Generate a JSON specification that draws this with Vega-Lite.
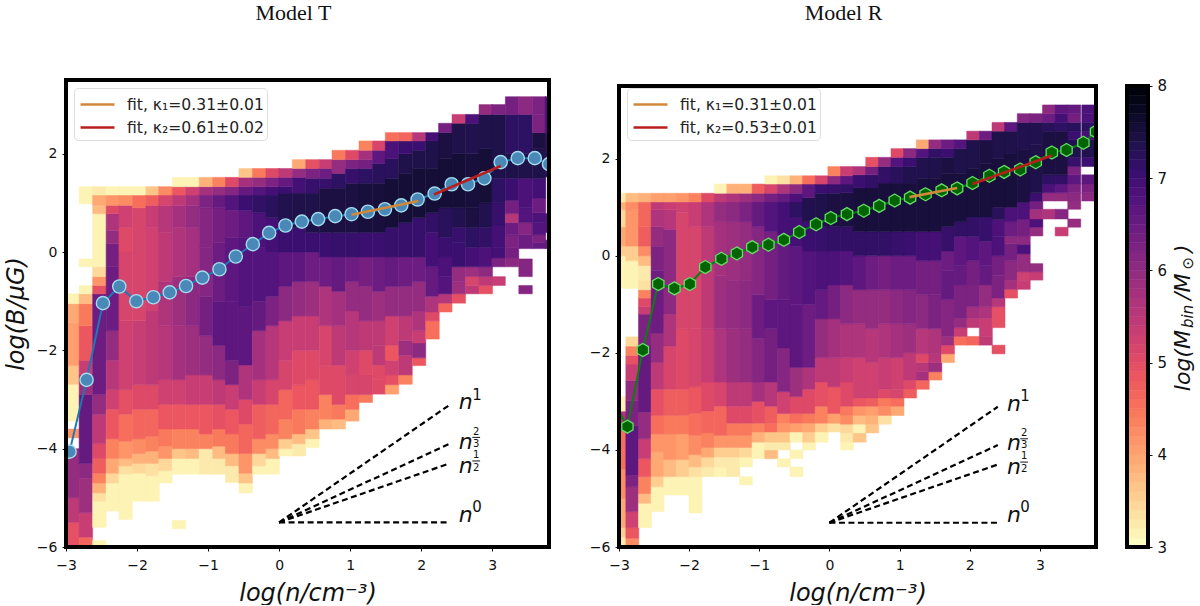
{"$schema":"https://vega.github.io/schema/vega-lite/v6.json","background":"white","padding":{"left":4,"top":2,"right":0,"bottom":0},"bounds":"flush","spacing":70,"resolve":{"scale":{"color":"independent"},"legend":{"color":"independent"}},"config":{"view":{"stroke":null},"axis":{"grid":false,"domain":false,"labelFlush":false,"labelFont":"DejaVu Sans","labelFontSize":14,"labelColor":"#111","tickColor":"#111","tickSize":4,"labelPadding":5,"titleFont":"DejaVu Sans","titleFontStyle":"italic","titleFontWeight":"normal","titleFontSize":24,"titleColor":"#111"},"title":{"font":"Liberation Serif","fontSize":22,"fontWeight":"normal","color":"#111","anchor":"middle","dx":-14},"legend":{"labelFont":"DejaVu Sans","labelFontSize":15.6,"labelColor":"#222","symbolType":"M-0.83,0H2","symbolSize":576,"symbolStrokeWidth":2.5,"fillColor":"white","strokeColor":"#ddd","cornerRadius":4,"padding":3,"rowPadding":0,"labelOffset":23,"title":null}},"datasets":{"heatT":[
{"x":-2.906,"y":-6,"y2":-5.5,"v":4.9},{"x":-2.906,"y":-5.5,"y2":-5,"v":5.4},{"x":-2.906,"y":-5,"y2":-4,"v":5.9},{"x":-2.906,"y":-3.78,"y2":-3.6,"v":4.1},{"x":-2.906,"y":-3.44,"y2":-2.69,"v":3.1},{"x":-2.906,"y":-2.69,"y2":-2.31,"v":3.6},{"x":-2.906,"y":-2.31,"y2":-1.43,"v":4},{"x":-2.906,"y":-1.43,"y2":-1.05,"v":3.9},{"x":-2.906,"y":-1.05,"y2":-0.85,"v":3.1},
{"x":-2.72,"y":-6,"y2":-5.8,"v":4.6},{"x":-2.72,"y":-5.8,"y2":-5.3,"v":5.3},{"x":-2.72,"y":-5.3,"y2":-4.6,"v":5.8},{"x":-2.72,"y":-4.6,"y2":-4.3,"v":6},{"x":-2.72,"y":-4.3,"y2":-2.9,"v":6.5},{"x":-2.72,"y":-2.9,"y2":-2.5,"v":5.8},{"x":-2.72,"y":-2.5,"y2":-2.2,"v":5.3},{"x":-2.72,"y":-2.2,"y2":-1.5,"v":4.8},{"x":-2.72,"y":-1.5,"y2":-1.05,"v":4.4},{"x":-2.72,"y":-1.05,"y2":-0.85,"v":3.7},{"x":-2.72,"y":-0.85,"y2":-0.68,"v":3.1},{"x":-2.72,"y":-0.3,"y2":-0.14,"v":3.1},{"x":-2.72,"y":0.98,"y2":1.33,"v":3.1},
{"x":-2.53,"y":-6,"y2":-5.87,"v":3.1},{"x":-2.53,"y":-5.6,"y2":-5.07,"v":3.1},{"x":-2.53,"y":-5.07,"y2":-4.9,"v":3.3},{"x":-2.53,"y":-4.9,"y2":-4.7,"v":3.8},{"x":-2.53,"y":-4.7,"y2":-4.5,"v":4.3},{"x":-2.53,"y":-4.5,"y2":-4.2,"v":4.7},{"x":-2.53,"y":-4.2,"y2":-3.9,"v":5},{"x":-2.53,"y":-3.9,"y2":-3.3,"v":5.4},{"x":-2.53,"y":-3.3,"y2":-2.9,"v":5.9},{"x":-2.53,"y":-2.9,"y2":-0.85,"v":6.4},{"x":-2.53,"y":-0.85,"y2":-0.68,"v":4.9},{"x":-2.53,"y":-0.68,"y2":-0.5,"v":4.1},{"x":-2.53,"y":-0.5,"y2":-0.3,"v":3.4},{"x":-2.53,"y":-0.3,"y2":0.78,"v":3.1},{"x":-2.53,"y":0.78,"y2":0.95,"v":3.7},{"x":-2.53,"y":0.95,"y2":1.16,"v":3.9},{"x":-2.53,"y":1.16,"y2":1.33,"v":3.2},
{"x":-2.34,"y":-5.27,"y2":-4.7,"v":3.1},{"x":-2.34,"y":-4.7,"y2":-4.5,"v":3.4},{"x":-2.34,"y":-4.5,"y2":-4.2,"v":3.9},{"x":-2.34,"y":-4.2,"y2":-3.8,"v":4.3},{"x":-2.34,"y":-3.8,"y2":-3.2,"v":4.8},{"x":-2.34,"y":-3.2,"y2":-2.8,"v":5.2},{"x":-2.34,"y":-2.8,"y2":-2.2,"v":5.5},{"x":-2.34,"y":-2.2,"y2":-1.6,"v":5.9},{"x":-2.34,"y":-1.6,"y2":-0.3,"v":6.4},{"x":-2.34,"y":-0.3,"y2":0.17,"v":6.3},{"x":-2.34,"y":0.17,"y2":0.44,"v":5.9},{"x":-2.34,"y":0.44,"y2":0.78,"v":5.6},{"x":-2.34,"y":0.78,"y2":0.95,"v":5},{"x":-2.34,"y":0.95,"y2":1.16,"v":4.1},{"x":-2.34,"y":1.16,"y2":1.33,"v":3.1},
{"x":-2.16,"y":-5.44,"y2":-4.52,"v":3.1},{"x":-2.16,"y":-4.52,"y2":-4.35,"v":3.3},{"x":-2.16,"y":-4.35,"y2":-4.2,"v":3.7},{"x":-2.16,"y":-4.2,"y2":-3.85,"v":4.1},{"x":-2.16,"y":-3.85,"y2":-3.3,"v":4.5},{"x":-2.16,"y":-3.3,"y2":-2.8,"v":4.9},{"x":-2.16,"y":-2.8,"y2":-1.4,"v":5.2},{"x":-2.16,"y":-1.4,"y2":0,"v":5.1},{"x":-2.16,"y":0,"y2":0.5,"v":5},{"x":-2.16,"y":0.5,"y2":0.95,"v":5.2},{"x":-2.16,"y":0.95,"y2":1.16,"v":4.2},{"x":-2.16,"y":1.16,"y2":1.33,"v":3.1},
{"x":-1.97,"y":-5.07,"y2":-4.5,"v":3.1},{"x":-1.97,"y":-4.5,"y2":-4.3,"v":3.4},{"x":-1.97,"y":-4.3,"y2":-4.1,"v":3.8},{"x":-1.97,"y":-4.1,"y2":-3.8,"v":4.2},{"x":-1.97,"y":-3.8,"y2":-3.2,"v":4.6},{"x":-1.97,"y":-3.2,"y2":-2.7,"v":5},{"x":-1.97,"y":-2.7,"y2":-1.4,"v":5.3},{"x":-1.97,"y":-1.4,"y2":0.9,"v":5.1},{"x":-1.97,"y":0.9,"y2":1.16,"v":4.5},{"x":-1.97,"y":1.16,"y2":1.33,"v":3.1},
{"x":-1.78,"y":-5.07,"y2":-4.55,"v":3.1},{"x":-1.78,"y":-4.55,"y2":-4.3,"v":3.3},{"x":-1.78,"y":-4.3,"y2":-4.05,"v":3.8},{"x":-1.78,"y":-4.05,"y2":-3.75,"v":4.3},{"x":-1.78,"y":-3.75,"y2":-3.2,"v":4.6},{"x":-1.78,"y":-3.2,"y2":-2.7,"v":5},{"x":-1.78,"y":-2.7,"y2":-1.2,"v":5.4},{"x":-1.78,"y":-1.2,"y2":0.5,"v":5.2},{"x":-1.78,"y":0.5,"y2":0.95,"v":5.3},{"x":-1.78,"y":0.95,"y2":1.16,"v":4.7},{"x":-1.78,"y":1.16,"y2":1.33,"v":3.6},
{"x":-1.6,"y":-4.7,"y2":-4.45,"v":3.1},{"x":-1.6,"y":-4.45,"y2":-4.2,"v":3.4},{"x":-1.6,"y":-4.2,"y2":-3.95,"v":4.1},{"x":-1.6,"y":-3.95,"y2":-3.6,"v":4.4},{"x":-1.6,"y":-3.6,"y2":-3.1,"v":4.8},{"x":-1.6,"y":-3.1,"y2":-2.6,"v":5.2},{"x":-1.6,"y":-2.6,"y2":-1.5,"v":5.5},{"x":-1.6,"y":-1.5,"y2":-0.6,"v":5.6},{"x":-1.6,"y":-0.6,"y2":0.4,"v":5.4},{"x":-1.6,"y":0.4,"y2":0.95,"v":5.5},{"x":-1.6,"y":0.95,"y2":1.16,"v":5.1},{"x":-1.6,"y":1.16,"y2":1.33,"v":4.2},
{"x":-1.41,"y":-5.63,"y2":-5.46,"v":3.1},{"x":-1.41,"y":-4.52,"y2":-4.2,"v":3.1},{"x":-1.41,"y":-4.2,"y2":-4,"v":3.6},{"x":-1.41,"y":-4,"y2":-3.6,"v":4.3},{"x":-1.41,"y":-3.6,"y2":-3.1,"v":4.8},{"x":-1.41,"y":-3.1,"y2":-2.6,"v":5.2},{"x":-1.41,"y":-2.6,"y2":-1.5,"v":5.7},{"x":-1.41,"y":-1.5,"y2":-0.5,"v":5.8},{"x":-1.41,"y":-0.5,"y2":0.5,"v":5.6},{"x":-1.41,"y":0.5,"y2":0.95,"v":5.7},{"x":-1.41,"y":0.95,"y2":1.16,"v":5.4},{"x":-1.41,"y":1.16,"y2":1.33,"v":4.8},{"x":-1.41,"y":1.33,"y2":1.52,"v":3.1},
{"x":-1.22,"y":-4.52,"y2":-4.2,"v":3.1},{"x":-1.22,"y":-4.2,"y2":-4,"v":3.7},{"x":-1.22,"y":-4,"y2":-3.6,"v":4.3},{"x":-1.22,"y":-3.6,"y2":-3.1,"v":4.8},{"x":-1.22,"y":-3.1,"y2":-2.5,"v":5.3},{"x":-1.22,"y":-2.5,"y2":-1.5,"v":5.8},{"x":-1.22,"y":-1.5,"y2":-0.5,"v":6},{"x":-1.22,"y":-0.5,"y2":0.5,"v":5.7},{"x":-1.22,"y":0.5,"y2":0.95,"v":5.9},{"x":-1.22,"y":0.95,"y2":1.16,"v":5.7},{"x":-1.22,"y":1.16,"y2":1.33,"v":5.2},{"x":-1.22,"y":1.33,"y2":1.52,"v":3.1},
{"x":-1.03,"y":-4.52,"y2":-4,"v":3.2},{"x":-1.03,"y":-4,"y2":-3.7,"v":4.3},{"x":-1.03,"y":-3.7,"y2":-3.1,"v":4.8},{"x":-1.03,"y":-3.1,"y2":-2.5,"v":5.3},{"x":-1.03,"y":-2.5,"y2":-1.7,"v":5.9},{"x":-1.03,"y":-1.7,"y2":-0.9,"v":6.3},{"x":-1.03,"y":-0.9,"y2":0.1,"v":6.1},{"x":-1.03,"y":0.1,"y2":0.9,"v":6.1},{"x":-1.03,"y":0.9,"y2":1.16,"v":6.2},{"x":-1.03,"y":1.16,"y2":1.33,"v":5.7},{"x":-1.03,"y":1.33,"y2":1.52,"v":3.8},
{"x":-0.84,"y":-4.52,"y2":-4.2,"v":3.2},{"x":-0.84,"y":-4.2,"y2":-3.95,"v":3.7},{"x":-0.84,"y":-3.95,"y2":-3.6,"v":4.4},{"x":-0.84,"y":-3.6,"y2":-3.1,"v":4.9},{"x":-0.84,"y":-3.1,"y2":-2.6,"v":5.4},{"x":-0.84,"y":-2.6,"y2":-1.9,"v":6},{"x":-0.84,"y":-1.9,"y2":-1,"v":6.6},{"x":-0.84,"y":-1,"y2":0.2,"v":6.4},{"x":-0.84,"y":0.2,"y2":0.9,"v":6.3},{"x":-0.84,"y":0.9,"y2":1.16,"v":6.5},{"x":-0.84,"y":1.16,"y2":1.33,"v":5.9},{"x":-0.84,"y":1.33,"y2":1.52,"v":4.3},
{"x":-0.66,"y":-4.69,"y2":-4.35,"v":3.2},{"x":-0.66,"y":-4.35,"y2":-4.1,"v":3.7},{"x":-0.66,"y":-4.1,"y2":-3.7,"v":4.4},{"x":-0.66,"y":-3.7,"y2":-3.2,"v":4.8},{"x":-0.66,"y":-3.2,"y2":-2.7,"v":5.3},{"x":-0.66,"y":-2.7,"y2":-2.2,"v":6.2},{"x":-0.66,"y":-2.2,"y2":-1,"v":6.6},{"x":-0.66,"y":-1,"y2":0.3,"v":6.6},{"x":-0.66,"y":0.3,"y2":0.85,"v":6.4},{"x":-0.66,"y":0.85,"y2":1.16,"v":6.7},{"x":-0.66,"y":1.16,"y2":1.33,"v":6.1},{"x":-0.66,"y":1.33,"y2":1.52,"v":5},
{"x":-0.47,"y":-4.9,"y2":-4.7,"v":3.1},{"x":-0.47,"y":-4.7,"y2":-4.5,"v":3.6},{"x":-0.47,"y":-4.5,"y2":-4.1,"v":4.1},{"x":-0.47,"y":-4.1,"y2":-3.5,"v":4.6},{"x":-0.47,"y":-3.5,"y2":-3,"v":5},{"x":-0.47,"y":-3,"y2":-2.3,"v":5.6},{"x":-0.47,"y":-2.3,"y2":-1.1,"v":6.6},{"x":-0.47,"y":-1.1,"y2":0.3,"v":6.7},{"x":-0.47,"y":0.3,"y2":0.85,"v":6.6},{"x":-0.47,"y":0.85,"y2":1.16,"v":7},{"x":-0.47,"y":1.16,"y2":1.33,"v":6.5},{"x":-0.47,"y":1.33,"y2":1.52,"v":5.7},{"x":-0.47,"y":1.52,"y2":1.7,"v":3.6},
{"x":-0.28,"y":-4.52,"y2":-4.35,"v":3.1},{"x":-0.28,"y":-4.35,"y2":-4.1,"v":3.4},{"x":-0.28,"y":-4.1,"y2":-3.8,"v":4.2},{"x":-0.28,"y":-3.8,"y2":-3.1,"v":4.7},{"x":-0.28,"y":-3.1,"y2":-2.6,"v":5.3},{"x":-0.28,"y":-2.6,"y2":-1.6,"v":5.7},{"x":-0.28,"y":-1.6,"y2":-1,"v":6.5},{"x":-0.28,"y":-1,"y2":0.1,"v":6.7},{"x":-0.28,"y":0.1,"y2":0.8,"v":6.8},{"x":-0.28,"y":0.8,"y2":1.16,"v":7.1},{"x":-0.28,"y":1.16,"y2":1.33,"v":6.7},{"x":-0.28,"y":1.33,"y2":1.52,"v":5.9},{"x":-0.28,"y":1.52,"y2":1.7,"v":4.4},
{"x":-0.09,"y":-4.52,"y2":-4.2,"v":3.1},{"x":-0.09,"y":-4.2,"y2":-4,"v":3.7},{"x":-0.09,"y":-4,"y2":-3.7,"v":4.2},{"x":-0.09,"y":-3.7,"y2":-3.1,"v":4.6},{"x":-0.09,"y":-3.1,"y2":-2.6,"v":5.1},{"x":-0.09,"y":-2.6,"y2":-1.5,"v":5.5},{"x":-0.09,"y":-1.5,"y2":-0.9,"v":6.2},{"x":-0.09,"y":-0.9,"y2":0,"v":6.7},{"x":-0.09,"y":0,"y2":0.7,"v":6.9},{"x":-0.09,"y":0.7,"y2":1.16,"v":7.2},{"x":-0.09,"y":1.16,"y2":1.33,"v":6.9},{"x":-0.09,"y":1.33,"y2":1.52,"v":6.2},{"x":-0.09,"y":1.52,"y2":1.7,"v":5},
{"x":0.09,"y":-4.15,"y2":-4,"v":3.1},{"x":0.09,"y":-4,"y2":-3.8,"v":3.5},{"x":0.09,"y":-3.8,"y2":-3.4,"v":4.3},{"x":0.09,"y":-3.4,"y2":-2.8,"v":4.6},{"x":0.09,"y":-2.8,"y2":-2.2,"v":5.1},{"x":0.09,"y":-2.2,"y2":-1.4,"v":5.3},{"x":0.09,"y":-1.4,"y2":-0.7,"v":6},{"x":0.09,"y":-0.7,"y2":0,"v":6.6},{"x":0.09,"y":0,"y2":0.6,"v":7},{"x":0.09,"y":0.6,"y2":1.2,"v":7.3},{"x":0.09,"y":1.2,"y2":1.33,"v":7},{"x":0.09,"y":1.33,"y2":1.52,"v":6.5},{"x":0.09,"y":1.52,"y2":1.7,"v":5.4},
{"x":0.28,"y":-4.15,"y2":-3.9,"v":3.2},{"x":0.28,"y":-3.9,"y2":-3.7,"v":3.7},{"x":0.28,"y":-3.7,"y2":-3.2,"v":4.4},{"x":0.28,"y":-3.2,"y2":-2.7,"v":4.8},{"x":0.28,"y":-2.7,"y2":-2,"v":5},{"x":0.28,"y":-2,"y2":-1.3,"v":5.3},{"x":0.28,"y":-1.3,"y2":-0.6,"v":5.9},{"x":0.28,"y":-0.6,"y2":0,"v":6.6},{"x":0.28,"y":0,"y2":0.5,"v":7},{"x":0.28,"y":0.5,"y2":1.2,"v":7.35},{"x":0.28,"y":1.2,"y2":1.52,"v":6.9},{"x":0.28,"y":1.52,"y2":1.7,"v":5.9},{"x":0.28,"y":1.7,"y2":1.88,"v":3.9},
{"x":0.47,"y":-3.98,"y2":-3.8,"v":3.1},{"x":0.47,"y":-3.8,"y2":-3.6,"v":3.6},{"x":0.47,"y":-3.6,"y2":-3.2,"v":4.3},{"x":0.47,"y":-3.2,"y2":-2.6,"v":4.8},{"x":0.47,"y":-2.6,"y2":-2,"v":5},{"x":0.47,"y":-2,"y2":-1.3,"v":5.3},{"x":0.47,"y":-1.3,"y2":-0.6,"v":5.8},{"x":0.47,"y":-0.6,"y2":0,"v":6.4},{"x":0.47,"y":0,"y2":0.4,"v":7},{"x":0.47,"y":0.4,"y2":1.2,"v":7.35},{"x":0.47,"y":1.2,"y2":1.5,"v":7.05},{"x":0.47,"y":1.5,"y2":1.7,"v":6.2},{"x":0.47,"y":1.7,"y2":1.88,"v":4.9},
{"x":0.66,"y":-3.6,"y2":-3.4,"v":3.8},{"x":0.66,"y":-3.4,"y2":-2.9,"v":4.3},{"x":0.66,"y":-2.9,"y2":-2.3,"v":5},{"x":0.66,"y":-2.3,"y2":-1.5,"v":5.1},{"x":0.66,"y":-1.5,"y2":-0.7,"v":5.6},{"x":0.66,"y":-0.7,"y2":-0.1,"v":6.4},{"x":0.66,"y":-0.1,"y2":0.4,"v":7},{"x":0.66,"y":0.4,"y2":1.3,"v":7.4},{"x":0.66,"y":1.3,"y2":1.5,"v":7.05},{"x":0.66,"y":1.5,"y2":1.7,"v":6.4},{"x":0.66,"y":1.7,"y2":1.88,"v":5.3},
{"x":0.84,"y":-3.6,"y2":-3.4,"v":3.7},{"x":0.84,"y":-3.4,"y2":-3.1,"v":4.4},{"x":0.84,"y":-3.1,"y2":-2.3,"v":5},{"x":0.84,"y":-2.3,"y2":-1.5,"v":5.4},{"x":0.84,"y":-1.5,"y2":-0.8,"v":5.7},{"x":0.84,"y":-0.8,"y2":-0.1,"v":6.5},{"x":0.84,"y":-0.1,"y2":0.4,"v":7.05},{"x":0.84,"y":0.4,"y2":1.3,"v":7.4},{"x":0.84,"y":1.3,"y2":1.6,"v":7.15},{"x":0.84,"y":1.6,"y2":1.88,"v":5.9},{"x":0.84,"y":1.88,"y2":2.07,"v":4.4},
{"x":1.03,"y":-3.44,"y2":-3.2,"v":3.9},{"x":1.03,"y":-3.2,"y2":-2.9,"v":4.5},{"x":1.03,"y":-2.9,"y2":-2.5,"v":5.1},{"x":1.03,"y":-2.5,"y2":-2,"v":5.2},{"x":1.03,"y":-2,"y2":-1.2,"v":5.5},{"x":1.03,"y":-1.2,"y2":-0.6,"v":5.9},{"x":1.03,"y":-0.6,"y2":-0.1,"v":6.4},{"x":1.03,"y":-0.1,"y2":0.4,"v":7.05},{"x":1.03,"y":0.4,"y2":1.4,"v":7.4},{"x":1.03,"y":1.4,"y2":1.7,"v":7.05},{"x":1.03,"y":1.7,"y2":1.88,"v":6.2},{"x":1.03,"y":1.88,"y2":2.07,"v":5},
{"x":1.22,"y":-3.06,"y2":-2.9,"v":4.4},{"x":1.22,"y":-2.9,"y2":-2.5,"v":5.1},{"x":1.22,"y":-2.5,"y2":-2,"v":5},{"x":1.22,"y":-2,"y2":-1.4,"v":5.4},{"x":1.22,"y":-1.4,"y2":-0.7,"v":5.9},{"x":1.22,"y":-0.7,"y2":-0.1,"v":6.3},{"x":1.22,"y":-0.1,"y2":0.4,"v":7},{"x":1.22,"y":0.4,"y2":1.4,"v":7.45},{"x":1.22,"y":1.4,"y2":1.7,"v":7.15},{"x":1.22,"y":1.7,"y2":1.88,"v":6.3},{"x":1.22,"y":1.88,"y2":2.07,"v":5.7},{"x":1.22,"y":2.07,"y2":2.26,"v":4.3},
{"x":1.41,"y":-2.89,"y2":-2.6,"v":5},{"x":1.41,"y":-2.6,"y2":-2.3,"v":5},{"x":1.41,"y":-2.3,"y2":-1.9,"v":5.4},{"x":1.41,"y":-1.9,"y2":-1.4,"v":5.4},{"x":1.41,"y":-1.4,"y2":-0.8,"v":5.8},{"x":1.41,"y":-0.8,"y2":-0.1,"v":6.4},{"x":1.41,"y":-0.1,"y2":0.4,"v":7},{"x":1.41,"y":0.4,"y2":1.4,"v":7.45},{"x":1.41,"y":1.4,"y2":1.8,"v":7.2},{"x":1.41,"y":1.8,"y2":2.07,"v":6.6},{"x":1.41,"y":2.07,"y2":2.26,"v":5.1},
{"x":1.59,"y":-2.89,"y2":-2.7,"v":4},{"x":1.59,"y":-2.7,"y2":-2.5,"v":4.9},{"x":1.59,"y":-2.5,"y2":-2.2,"v":5.2},{"x":1.59,"y":-2.2,"y2":-1.9,"v":4.8},{"x":1.59,"y":-1.9,"y2":-1.3,"v":5.2},{"x":1.59,"y":-1.3,"y2":-0.7,"v":5.9},{"x":1.59,"y":-0.7,"y2":-0.1,"v":6.5},{"x":1.59,"y":-0.1,"y2":0.5,"v":7.05},{"x":1.59,"y":0.5,"y2":1.5,"v":7.5},{"x":1.59,"y":1.5,"y2":1.9,"v":7.2},{"x":1.59,"y":1.9,"y2":2.26,"v":6.8},{"x":1.59,"y":2.26,"y2":2.43,"v":4.5},
{"x":1.78,"y":-2.69,"y2":-2.5,"v":4.3},{"x":1.78,"y":-2.5,"y2":-2.1,"v":5.4},{"x":1.78,"y":-2.1,"y2":-1.8,"v":5.8},{"x":1.78,"y":-1.8,"y2":-1.3,"v":5.4},{"x":1.78,"y":-1.3,"y2":-0.7,"v":5.9},{"x":1.78,"y":-0.7,"y2":-0.1,"v":6.4},{"x":1.78,"y":-0.1,"y2":0.6,"v":7.05},{"x":1.78,"y":0.6,"y2":1.6,"v":7.5},{"x":1.78,"y":1.6,"y2":2,"v":7.35},{"x":1.78,"y":2,"y2":2.26,"v":7},{"x":1.78,"y":2.26,"y2":2.43,"v":4.6},
{"x":1.97,"y":-2.31,"y2":-2.15,"v":4.8},{"x":1.97,"y":-2.15,"y2":-1.85,"v":6},{"x":1.97,"y":-1.85,"y2":-1.6,"v":5.3},{"x":1.97,"y":-1.6,"y2":-1.2,"v":5.6},{"x":1.97,"y":-1.2,"y2":-0.6,"v":5.9},{"x":1.97,"y":-0.6,"y2":-0.1,"v":6.4},{"x":1.97,"y":-0.1,"y2":0.7,"v":7.05},{"x":1.97,"y":0.7,"y2":1.7,"v":7.5},{"x":1.97,"y":1.7,"y2":2.07,"v":7.35},{"x":1.97,"y":2.07,"y2":2.26,"v":7},{"x":1.97,"y":2.26,"y2":2.43,"v":5.5},
{"x":2.16,"y":-1.77,"y2":-1.4,"v":4.5},{"x":2.16,"y":-1.4,"y2":-1.22,"v":5},{"x":2.16,"y":-1.22,"y2":-0.9,"v":5.6},{"x":2.16,"y":-0.9,"y2":-0.3,"v":6.5},{"x":2.16,"y":-0.3,"y2":0.4,"v":6.9},{"x":2.16,"y":0.4,"y2":0.8,"v":7.1},{"x":2.16,"y":0.8,"y2":1.7,"v":7.5},{"x":2.16,"y":1.7,"y2":2.26,"v":7.35},{"x":2.16,"y":2.26,"y2":2.43,"v":6.9},
{"x":2.34,"y":-1.22,"y2":-1.04,"v":4.6},{"x":2.34,"y":-1.04,"y2":-0.85,"v":5.5},{"x":2.34,"y":-0.85,"y2":-0.5,"v":6.7},{"x":2.34,"y":-0.5,"y2":-0.1,"v":6.8},{"x":2.34,"y":-0.1,"y2":0.3,"v":7},{"x":2.34,"y":0.3,"y2":0.9,"v":7.2},{"x":2.34,"y":0.9,"y2":1.9,"v":7.5},{"x":2.34,"y":1.9,"y2":2.43,"v":7.4},{"x":2.34,"y":2.43,"y2":2.62,"v":6.3},
{"x":2.53,"y":-1.04,"y2":-0.85,"v":4.9},{"x":2.53,"y":-0.85,"y2":-0.6,"v":5.8},{"x":2.53,"y":-0.6,"y2":-0.3,"v":5.9},{"x":2.53,"y":-0.3,"y2":0.2,"v":7},{"x":2.53,"y":0.2,"y2":0.5,"v":7.05},{"x":2.53,"y":0.5,"y2":0.9,"v":7.3},{"x":2.53,"y":0.9,"y2":2,"v":7.5},{"x":2.53,"y":2,"y2":2.62,"v":7.35},{"x":2.53,"y":2.62,"y2":2.8,"v":5.3},
{"x":2.72,"y":-0.85,"y2":-0.68,"v":5.4},{"x":2.72,"y":-0.68,"y2":-0.5,"v":5.1},{"x":2.72,"y":-0.5,"y2":-0.3,"v":5.8},{"x":2.72,"y":-0.3,"y2":0.1,"v":6.9},{"x":2.72,"y":0.1,"y2":0.5,"v":7.15},{"x":2.72,"y":0.5,"y2":0.9,"v":7.4},{"x":2.72,"y":0.9,"y2":2,"v":7.45},{"x":2.72,"y":2,"y2":2.62,"v":7.3},{"x":2.72,"y":2.62,"y2":2.8,"v":6.8},
{"x":2.91,"y":-0.85,"y2":-0.68,"v":4.9},{"x":2.91,"y":-0.68,"y2":-0.5,"v":5.4},{"x":2.91,"y":-0.5,"y2":-0.3,"v":6},{"x":2.91,"y":-0.3,"y2":0.1,"v":6.8},{"x":2.91,"y":0.1,"y2":0.5,"v":7.1},{"x":2.91,"y":0.5,"y2":1,"v":7.3},{"x":2.91,"y":1,"y2":2.1,"v":7.5},{"x":2.91,"y":2.1,"y2":2.8,"v":7.35},{"x":2.91,"y":2.8,"y2":3,"v":5.9},
{"x":3.09,"y":-0.68,"y2":-0.5,"v":5.3},{"x":3.09,"y":-0.3,"y2":-0.12,"v":6.2},{"x":3.09,"y":-0.12,"y2":0.1,"v":6.9},{"x":3.09,"y":0.1,"y2":0.55,"v":6.9},{"x":3.09,"y":0.55,"y2":1,"v":7.05},{"x":3.09,"y":1,"y2":1.5,"v":7.15},{"x":3.09,"y":1.5,"y2":2.8,"v":7.35},{"x":3.09,"y":2.8,"y2":3,"v":6.2},
{"x":3.28,"y":-0.3,"y2":-0.12,"v":6},{"x":3.28,"y":-0.12,"y2":0.1,"v":6.3},{"x":3.28,"y":0.1,"y2":0.35,"v":6.2},{"x":3.28,"y":0.35,"y2":0.6,"v":6.4},{"x":3.28,"y":0.6,"y2":0.78,"v":5.5},{"x":3.28,"y":0.78,"y2":1.05,"v":6.3},{"x":3.28,"y":1.05,"y2":1.5,"v":7},{"x":3.28,"y":1.5,"y2":2,"v":7.35},{"x":3.28,"y":2,"y2":2.8,"v":7.15},{"x":3.28,"y":2.8,"y2":3.16,"v":6.3},
{"x":3.47,"y":-0.85,"y2":-0.68,"v":6.1},{"x":3.47,"y":-0.5,"y2":-0.14,"v":6.1},{"x":3.47,"y":0.07,"y2":0.35,"v":6.4},{"x":3.47,"y":0.35,"y2":0.6,"v":6.1},{"x":3.47,"y":0.6,"y2":0.9,"v":6.7},{"x":3.47,"y":0.9,"y2":1.5,"v":6.8},{"x":3.47,"y":1.5,"y2":2,"v":7.35},{"x":3.47,"y":2,"y2":2.8,"v":7.15},{"x":3.47,"y":2.8,"y2":3.16,"v":6},
{"x":3.66,"y":0.07,"y2":0.2,"v":6.5},{"x":3.66,"y":0.2,"y2":0.35,"v":6.2},{"x":3.66,"y":0.35,"y2":0.6,"v":6.7},{"x":3.66,"y":0.6,"y2":0.8,"v":6.8},{"x":3.66,"y":0.8,"y2":1.1,"v":6.4},{"x":3.66,"y":1.1,"y2":1.5,"v":6.9},{"x":3.66,"y":1.5,"y2":2.1,"v":7.35},{"x":3.66,"y":2.1,"y2":2.43,"v":7.4},{"x":3.66,"y":2.43,"y2":2.8,"v":6.2},{"x":3.66,"y":2.8,"y2":3.16,"v":6.2},
{"x":3.84,"y":0.07,"y2":0.24,"v":6.5},{"x":3.84,"y":0.4,"y2":0.78,"v":6.7},{"x":3.84,"y":1.53,"y2":2.4,"v":7.2},{"x":3.84,"y":2.4,"y2":3.16,"v":6.8}
],"heatR":[
{"x":-2.91,"y":-6,"y2":-5.8,"v":3.2},{"x":-2.91,"y":-5.8,"y2":-5.6,"v":3.5},{"x":-2.91,"y":-5.6,"y2":-5,"v":3.9},{"x":-2.91,"y":-5,"y2":-4.4,"v":4.2},{"x":-2.91,"y":-4.4,"y2":-3.6,"v":4.5},{"x":-2.91,"y":-3.6,"y2":-3.2,"v":5.6},{"x":-2.91,"y":-3.2,"y2":-2.9,"v":3.1},{"x":-2.91,"y":-0.67,"y2":0,"v":3.1},{"x":-2.91,"y":0,"y2":0.2,"v":3.5},{"x":-2.91,"y":0.2,"y2":0.6,"v":3.9},{"x":-2.91,"y":0.6,"y2":0.95,"v":3.4},{"x":-2.91,"y":0.95,"y2":1.11,"v":3.8},{"x":-2.91,"y":1.11,"y2":1.29,"v":3.2},
{"x":-2.81,"y":-6,"y2":-5.82,"v":4.2},{"x":-2.81,"y":-5.82,"y2":-5.6,"v":4.8},{"x":-2.81,"y":-5.6,"y2":-5.27,"v":5.2},{"x":-2.81,"y":-5.27,"y2":-4.76,"v":5.8},{"x":-2.81,"y":-4.76,"y2":-4.52,"v":6.2},{"x":-2.81,"y":-4.52,"y2":-3.5,"v":6.6},{"x":-2.81,"y":-3.5,"y2":-2.98,"v":6.2},{"x":-2.81,"y":-2.98,"y2":-2.57,"v":5.9},{"x":-2.81,"y":-2.57,"y2":-2.23,"v":5.3},{"x":-2.81,"y":-2.23,"y2":-2.05,"v":4.9},{"x":-2.81,"y":-2.05,"y2":-1.86,"v":4.3},{"x":-2.81,"y":-1.86,"y2":-1.67,"v":3.4},{"x":-2.81,"y":-0.67,"y2":-0.1,"v":3.1},{"x":-2.81,"y":-0.1,"y2":0.2,"v":3.5},{"x":-2.81,"y":0.2,"y2":0.95,"v":4.1},{"x":-2.81,"y":0.95,"y2":1.11,"v":4.2},{"x":-2.81,"y":1.11,"y2":1.29,"v":3.7},
{"x":-2.63,"y":-5.6,"y2":-5.1,"v":3.1},{"x":-2.63,"y":-5.1,"y2":-4.9,"v":3.7},{"x":-2.63,"y":-4.9,"y2":-4.55,"v":4.3},{"x":-2.63,"y":-4.55,"y2":-4.18,"v":4.8},{"x":-2.63,"y":-4.18,"y2":-3.77,"v":5.3},{"x":-2.63,"y":-3.77,"y2":-3.22,"v":5.9},{"x":-2.63,"y":-3.22,"y2":-1.86,"v":6.5},{"x":-2.63,"y":-1.86,"y2":-1.2,"v":6.2},{"x":-2.63,"y":-1.2,"y2":-1.05,"v":5.3},{"x":-2.63,"y":-1.05,"y2":-0.87,"v":5},{"x":-2.63,"y":-0.87,"y2":-0.7,"v":4.3},{"x":-2.63,"y":-0.7,"y2":-0.5,"v":3.3},{"x":-2.63,"y":-0.5,"y2":-0.2,"v":3.2},{"x":-2.63,"y":-0.2,"y2":0,"v":3.7},{"x":-2.63,"y":0,"y2":0.2,"v":4.2},{"x":-2.63,"y":0.2,"y2":0.6,"v":4.7},{"x":-2.63,"y":0.6,"y2":1.11,"v":4.6},{"x":-2.63,"y":1.11,"y2":1.29,"v":3.8},
{"x":-2.45,"y":-5.27,"y2":-4.76,"v":3.1},{"x":-2.45,"y":-4.76,"y2":-4.55,"v":3.5},{"x":-2.45,"y":-4.55,"y2":-4.04,"v":3.9},{"x":-2.45,"y":-4.04,"y2":-3.67,"v":4.1},{"x":-2.45,"y":-3.67,"y2":-3.29,"v":4.5},{"x":-2.45,"y":-3.29,"y2":-2.75,"v":4.9},{"x":-2.45,"y":-2.75,"y2":-2.2,"v":5.4},{"x":-2.45,"y":-2.2,"y2":-1.59,"v":5.9},{"x":-2.45,"y":-1.59,"y2":-0.3,"v":6.4},{"x":-2.45,"y":-0.3,"y2":0.2,"v":6.2},{"x":-2.45,"y":0.2,"y2":0.6,"v":5.9},{"x":-2.45,"y":0.6,"y2":0.95,"v":5.6},{"x":-2.45,"y":0.95,"y2":1.11,"v":5.4},{"x":-2.45,"y":1.11,"y2":1.29,"v":4},
{"x":-2.27,"y":-4.93,"y2":-4.55,"v":3.1},{"x":-2.27,"y":-4.55,"y2":-4.2,"v":3.7},{"x":-2.27,"y":-4.2,"y2":-3.67,"v":4.1},{"x":-2.27,"y":-3.67,"y2":-3.29,"v":4.4},{"x":-2.27,"y":-3.29,"y2":-2.75,"v":4.7},{"x":-2.27,"y":-2.75,"y2":-1.86,"v":5.1},{"x":-2.27,"y":-1.86,"y2":-1.2,"v":5.6},{"x":-2.27,"y":-1.2,"y2":0.55,"v":6},{"x":-2.27,"y":0.55,"y2":0.95,"v":5.5},{"x":-2.27,"y":0.95,"y2":1.11,"v":5.3},{"x":-2.27,"y":1.11,"y2":1.29,"v":4},
{"x":-2.09,"y":-4.93,"y2":-4.55,"v":3.1},{"x":-2.09,"y":-4.55,"y2":-4.2,"v":3.5},{"x":-2.09,"y":-4.2,"y2":-3.67,"v":4},{"x":-2.09,"y":-3.67,"y2":-3.29,"v":4.4},{"x":-2.09,"y":-3.29,"y2":-2.75,"v":4.7},{"x":-2.09,"y":-2.75,"y2":-1.5,"v":5},{"x":-2.09,"y":-1.5,"y2":0.9,"v":5.1},{"x":-2.09,"y":0.9,"y2":1.11,"v":5.2},{"x":-2.09,"y":1.11,"y2":1.29,"v":4.1},
{"x":-1.91,"y":-5.3,"y2":-4.55,"v":3.1},{"x":-1.91,"y":-4.55,"y2":-4.35,"v":3.3},{"x":-1.91,"y":-4.35,"y2":-4.1,"v":3.7},{"x":-1.91,"y":-4.1,"y2":-3.7,"v":4.2},{"x":-1.91,"y":-3.7,"y2":-3.25,"v":4.5},{"x":-1.91,"y":-3.25,"y2":-2.7,"v":4.8},{"x":-1.91,"y":-2.7,"y2":-1.5,"v":5.1},{"x":-1.91,"y":-1.5,"y2":0.6,"v":5.1},{"x":-1.91,"y":0.6,"y2":1.11,"v":5.3},{"x":-1.91,"y":1.11,"y2":1.29,"v":4.3},
{"x":-1.73,"y":-4.55,"y2":-4.35,"v":3.2},{"x":-1.73,"y":-4.35,"y2":-4.15,"v":3.4},{"x":-1.73,"y":-4.15,"y2":-3.95,"v":3.9},{"x":-1.73,"y":-3.95,"y2":-3.65,"v":4.3},{"x":-1.73,"y":-3.65,"y2":-3.2,"v":4.6},{"x":-1.73,"y":-3.2,"y2":-2.6,"v":5},{"x":-1.73,"y":-2.6,"y2":-1.5,"v":5.3},{"x":-1.73,"y":-1.5,"y2":0.6,"v":5.4},{"x":-1.73,"y":0.6,"y2":1.11,"v":5.6},{"x":-1.73,"y":1.11,"y2":1.29,"v":5},
{"x":-1.55,"y":-4.55,"y2":-4.35,"v":3.1},{"x":-1.55,"y":-4.35,"y2":-4.15,"v":3.2},{"x":-1.55,"y":-4.15,"y2":-3.95,"v":3.5},{"x":-1.55,"y":-3.95,"y2":-3.7,"v":4.1},{"x":-1.55,"y":-3.7,"y2":-3.1,"v":4.6},{"x":-1.55,"y":-3.1,"y2":-2.6,"v":5.1},{"x":-1.55,"y":-2.6,"y2":-1.5,"v":5.6},{"x":-1.55,"y":-1.5,"y2":-0.4,"v":5.8},{"x":-1.55,"y":-0.4,"y2":0.7,"v":5.7},{"x":-1.55,"y":0.7,"y2":1.11,"v":5.9},{"x":-1.55,"y":1.11,"y2":1.29,"v":5.4},{"x":-1.55,"y":1.29,"y2":1.48,"v":3.1},
{"x":-1.37,"y":-4.55,"y2":-4.15,"v":3.2},{"x":-1.37,"y":-4.15,"y2":-3.95,"v":3.5},{"x":-1.37,"y":-3.95,"y2":-3.7,"v":4.1},{"x":-1.37,"y":-3.7,"y2":-3.45,"v":4.4},{"x":-1.37,"y":-3.45,"y2":-3.1,"v":5},{"x":-1.37,"y":-3.1,"y2":-2.6,"v":5.4},{"x":-1.37,"y":-2.6,"y2":-1.5,"v":5.8},{"x":-1.37,"y":-1.5,"y2":-0.5,"v":5.9},{"x":-1.37,"y":-0.5,"y2":0.7,"v":5.8},{"x":-1.37,"y":0.7,"y2":1.11,"v":6},{"x":-1.37,"y":1.11,"y2":1.29,"v":5.6},{"x":-1.37,"y":1.29,"y2":1.48,"v":3.8},
{"x":-1.19,"y":-4.72,"y2":-4.55,"v":3.1},{"x":-1.19,"y":-4.35,"y2":-4.15,"v":3.1},{"x":-1.19,"y":-4.15,"y2":-3.95,"v":3.4},{"x":-1.19,"y":-3.95,"y2":-3.7,"v":4.1},{"x":-1.19,"y":-3.7,"y2":-3.45,"v":4.4},{"x":-1.19,"y":-3.45,"y2":-3.1,"v":5},{"x":-1.19,"y":-3.1,"y2":-2.6,"v":5.4},{"x":-1.19,"y":-2.6,"y2":-1.5,"v":5.9},{"x":-1.19,"y":-1.5,"y2":-0.5,"v":6},{"x":-1.19,"y":-0.5,"y2":0.7,"v":5.9},{"x":-1.19,"y":0.7,"y2":1.11,"v":6.2},{"x":-1.19,"y":1.11,"y2":1.29,"v":5.8},{"x":-1.19,"y":1.29,"y2":1.48,"v":3.8},
{"x":-1.01,"y":-4.18,"y2":-3.84,"v":3.1},{"x":-1.01,"y":-3.84,"y2":-3.63,"v":3.8},{"x":-1.01,"y":-3.63,"y2":-3.45,"v":4.3},{"x":-1.01,"y":-3.45,"y2":-3,"v":4.9},{"x":-1.01,"y":-3,"y2":-2.6,"v":5.7},{"x":-1.01,"y":-2.6,"y2":-1.7,"v":6.1},{"x":-1.01,"y":-1.7,"y2":-0.8,"v":6.4},{"x":-1.01,"y":-0.8,"y2":0.6,"v":6.1},{"x":-1.01,"y":0.6,"y2":1.11,"v":6.5},{"x":-1.01,"y":1.11,"y2":1.29,"v":6},{"x":-1.01,"y":1.29,"y2":1.48,"v":4.7},
{"x":-0.83,"y":-4.18,"y2":-4,"v":3.7},{"x":-0.83,"y":-4,"y2":-3.84,"v":3.2},{"x":-0.83,"y":-3.84,"y2":-3.63,"v":3.6},{"x":-0.83,"y":-3.63,"y2":-3.45,"v":4.5},{"x":-0.83,"y":-3.45,"y2":-3.1,"v":4.7},{"x":-0.83,"y":-3.1,"y2":-2.6,"v":5.5},{"x":-0.83,"y":-2.6,"y2":-1.5,"v":6.3},{"x":-0.83,"y":-1.5,"y2":-0.9,"v":6.6},{"x":-0.83,"y":-0.9,"y2":0.5,"v":6.3},{"x":-0.83,"y":0.5,"y2":1.11,"v":6.7},{"x":-0.83,"y":1.11,"y2":1.29,"v":6.3},{"x":-0.83,"y":1.29,"y2":1.48,"v":5.1},{"x":-0.83,"y":1.48,"y2":1.65,"v":3.1},
{"x":-0.65,"y":-4.35,"y2":-4.18,"v":3.1},{"x":-0.65,"y":-4,"y2":-3.84,"v":3.2},{"x":-0.65,"y":-3.84,"y2":-3.63,"v":3.6},{"x":-0.65,"y":-3.63,"y2":-3.45,"v":4.1},{"x":-0.65,"y":-3.45,"y2":-3.25,"v":4.3},{"x":-0.65,"y":-3.25,"y2":-2.8,"v":5.2},{"x":-0.65,"y":-2.8,"y2":-1.9,"v":6.1},{"x":-0.65,"y":-1.9,"y2":-0.9,"v":6.6},{"x":-0.65,"y":-0.9,"y2":0.4,"v":6.5},{"x":-0.65,"y":0.4,"y2":1.11,"v":6.9},{"x":-0.65,"y":1.11,"y2":1.29,"v":6.5},{"x":-0.65,"y":1.29,"y2":1.48,"v":5.6},{"x":-0.65,"y":1.48,"y2":1.65,"v":3.3},
{"x":-0.47,"y":-4.55,"y2":-4.35,"v":3.1},{"x":-0.47,"y":-4.18,"y2":-4,"v":3.1},{"x":-0.47,"y":-3.84,"y2":-3.63,"v":3.1},{"x":-0.47,"y":-3.63,"y2":-3.45,"v":4},{"x":-0.47,"y":-3.45,"y2":-3.25,"v":4.5},{"x":-0.47,"y":-3.25,"y2":-2.9,"v":5},{"x":-0.47,"y":-2.9,"y2":-2.3,"v":5.8},{"x":-0.47,"y":-2.3,"y2":-1,"v":6.6},{"x":-0.47,"y":-1,"y2":0.2,"v":6.6},{"x":-0.47,"y":0.2,"y2":0.8,"v":6.9},{"x":-0.47,"y":0.8,"y2":1.11,"v":7.15},{"x":-0.47,"y":1.11,"y2":1.29,"v":6.8},{"x":-0.47,"y":1.29,"y2":1.48,"v":6},{"x":-0.47,"y":1.48,"y2":1.65,"v":3.8},
{"x":-0.29,"y":-4,"y2":-3.84,"v":3.1},{"x":-0.29,"y":-3.84,"y2":-3.63,"v":3.5},{"x":-0.29,"y":-3.63,"y2":-3.45,"v":3.9},{"x":-0.29,"y":-3.45,"y2":-3.25,"v":4.4},{"x":-0.29,"y":-3.25,"y2":-2.75,"v":5},{"x":-0.29,"y":-2.75,"y2":-2.3,"v":5.6},{"x":-0.29,"y":-2.3,"y2":-1,"v":6.4},{"x":-0.29,"y":-1,"y2":0.1,"v":6.7},{"x":-0.29,"y":0.1,"y2":0.7,"v":7},{"x":-0.29,"y":0.7,"y2":1.2,"v":7.3},{"x":-0.29,"y":1.2,"y2":1.48,"v":6.6},{"x":-0.29,"y":1.48,"y2":1.65,"v":4.5},
{"x":-0.11,"y":-3.84,"y2":-3.63,"v":3.1},{"x":-0.11,"y":-3.63,"y2":-3.45,"v":3.5},{"x":-0.11,"y":-3.45,"y2":-3.1,"v":4.3},{"x":-0.11,"y":-3.1,"y2":-2.6,"v":4.9},{"x":-0.11,"y":-2.6,"y2":-2.1,"v":5.4},{"x":-0.11,"y":-2.1,"y2":-1.3,"v":5.9},{"x":-0.11,"y":-1.3,"y2":-0.7,"v":6.5},{"x":-0.11,"y":-0.7,"y2":0.1,"v":6.8},{"x":-0.11,"y":0.1,"y2":0.6,"v":7.05},{"x":-0.11,"y":0.6,"y2":1.29,"v":7.35},{"x":-0.11,"y":1.29,"y2":1.48,"v":7},{"x":-0.11,"y":1.48,"y2":1.65,"v":5.1},
{"x":0.07,"y":-3.63,"y2":-3.45,"v":3.3},{"x":0.07,"y":-3.45,"y2":-3.25,"v":4},{"x":0.07,"y":-3.25,"y2":-2.7,"v":4.8},{"x":0.07,"y":-2.7,"y2":-2.1,"v":5.4},{"x":0.07,"y":-2.1,"y2":-1.3,"v":5.7},{"x":0.07,"y":-1.3,"y2":-0.6,"v":6.3},{"x":0.07,"y":-0.6,"y2":0.1,"v":6.8},{"x":0.07,"y":0.1,"y2":0.6,"v":7.1},{"x":0.07,"y":0.6,"y2":1.29,"v":7.4},{"x":0.07,"y":1.29,"y2":1.48,"v":7.05},{"x":0.07,"y":1.48,"y2":1.65,"v":6},{"x":0.07,"y":1.65,"y2":1.84,"v":4.3},
{"x":0.25,"y":-4,"y2":-3.84,"v":3.1},{"x":0.25,"y":-3.84,"y2":-3.65,"v":3.2},{"x":0.25,"y":-3.65,"y2":-3.47,"v":3.4},{"x":0.25,"y":-3.47,"y2":-3.29,"v":4.2},{"x":0.25,"y":-3.29,"y2":-3.1,"v":4.4},{"x":0.25,"y":-3.1,"y2":-2.6,"v":5},{"x":0.25,"y":-2.6,"y2":-2.1,"v":5.3},{"x":0.25,"y":-2.1,"y2":-1.4,"v":5.6},{"x":0.25,"y":-1.4,"y2":-0.6,"v":6},{"x":0.25,"y":-0.6,"y2":0.1,"v":6.7},{"x":0.25,"y":0.1,"y2":0.6,"v":7.1},{"x":0.25,"y":0.6,"y2":1.3,"v":7.4},{"x":0.25,"y":1.3,"y2":1.48,"v":7.1},{"x":0.25,"y":1.48,"y2":1.65,"v":6.6},{"x":0.25,"y":1.65,"y2":1.84,"v":5.3},
{"x":0.43,"y":-3.84,"y2":-3.65,"v":3.6},{"x":0.43,"y":-3.65,"y2":-3.47,"v":3.1},{"x":0.43,"y":-3.47,"y2":-3.29,"v":3.7},{"x":0.43,"y":-3.29,"y2":-3.1,"v":4.1},{"x":0.43,"y":-3.1,"y2":-2.93,"v":4.8},{"x":0.43,"y":-2.93,"y2":-2.1,"v":5.2},{"x":0.43,"y":-2.1,"y2":-1.4,"v":5.6},{"x":0.43,"y":-1.4,"y2":-0.7,"v":5.9},{"x":0.43,"y":-0.7,"y2":0,"v":6.6},{"x":0.43,"y":0,"y2":0.5,"v":7.1},{"x":0.43,"y":0.5,"y2":1.4,"v":7.45},{"x":0.43,"y":1.4,"y2":1.67,"v":7},{"x":0.43,"y":1.67,"y2":1.84,"v":5.6},
{"x":0.61,"y":-3.65,"y2":-3.47,"v":3.6},{"x":0.61,"y":-3.47,"y2":-3.29,"v":3.8},{"x":0.61,"y":-3.29,"y2":-3.1,"v":4},{"x":0.61,"y":-3.1,"y2":-2.93,"v":4.7},{"x":0.61,"y":-2.93,"y2":-2.2,"v":5.2},{"x":0.61,"y":-2.2,"y2":-1.5,"v":5.5},{"x":0.61,"y":-1.5,"y2":-0.7,"v":5.9},{"x":0.61,"y":-0.7,"y2":0,"v":6.4},{"x":0.61,"y":0,"y2":0.5,"v":7.1},{"x":0.61,"y":0.5,"y2":1.4,"v":7.45},{"x":0.61,"y":1.4,"y2":1.67,"v":7.1},{"x":0.61,"y":1.67,"y2":1.84,"v":6.3},{"x":0.61,"y":1.84,"y2":2.03,"v":4.9},
{"x":0.79,"y":-3.47,"y2":-3.29,"v":3.3},{"x":0.79,"y":-3.29,"y2":-3.1,"v":4.2},{"x":0.79,"y":-3.1,"y2":-2.93,"v":4.4},{"x":0.79,"y":-2.93,"y2":-2.75,"v":5},{"x":0.79,"y":-2.75,"y2":-2.1,"v":5.3},{"x":0.79,"y":-2.1,"y2":-1.4,"v":5.6},{"x":0.79,"y":-1.4,"y2":-0.7,"v":5.9},{"x":0.79,"y":-0.7,"y2":0,"v":6.3},{"x":0.79,"y":0,"y2":0.5,"v":7.1},{"x":0.79,"y":0.5,"y2":1.5,"v":7.45},{"x":0.79,"y":1.5,"y2":1.84,"v":7.1},{"x":0.79,"y":1.84,"y2":2.03,"v":5.9},
{"x":0.97,"y":-3.29,"y2":-3.1,"v":3.9},{"x":0.97,"y":-3.1,"y2":-2.93,"v":4.5},{"x":0.97,"y":-2.93,"y2":-2.75,"v":5.1},{"x":0.97,"y":-2.75,"y2":-2.1,"v":5.2},{"x":0.97,"y":-2.1,"y2":-1.4,"v":5.7},{"x":0.97,"y":-1.4,"y2":-0.7,"v":6},{"x":0.97,"y":-0.7,"y2":0,"v":6.4},{"x":0.97,"y":0,"y2":0.5,"v":7.05},{"x":0.97,"y":0.5,"y2":1.5,"v":7.45},{"x":0.97,"y":1.5,"y2":1.84,"v":7.2},{"x":0.97,"y":1.84,"y2":2.03,"v":6.7},{"x":0.97,"y":2.03,"y2":2.21,"v":5},
{"x":1.15,"y":-2.93,"y2":-2.75,"v":4.7},{"x":1.15,"y":-2.75,"y2":-2.56,"v":5},{"x":1.15,"y":-2.56,"y2":-2,"v":5.4},{"x":1.15,"y":-2,"y2":-1.4,"v":5.8},{"x":1.15,"y":-1.4,"y2":-0.7,"v":6.1},{"x":1.15,"y":-0.7,"y2":0,"v":6.4},{"x":1.15,"y":0,"y2":0.5,"v":7},{"x":1.15,"y":0.5,"y2":1.5,"v":7.45},{"x":1.15,"y":1.5,"y2":1.84,"v":7.3},{"x":1.15,"y":1.84,"y2":2.03,"v":7},{"x":1.15,"y":2.03,"y2":2.21,"v":6},
{"x":1.33,"y":-2.75,"y2":-2.56,"v":4.6},{"x":1.33,"y":-2.56,"y2":-2.39,"v":5.7},{"x":1.33,"y":-2.39,"y2":-2.2,"v":5.5},{"x":1.33,"y":-2.2,"y2":-2.02,"v":5},{"x":1.33,"y":-2.02,"y2":-1.5,"v":5.5},{"x":1.33,"y":-1.5,"y2":-0.8,"v":6},{"x":1.33,"y":-0.8,"y2":-0.1,"v":6.3},{"x":1.33,"y":-0.1,"y2":0.5,"v":6.9},{"x":1.33,"y":0.5,"y2":1.6,"v":7.45},{"x":1.33,"y":1.6,"y2":2.03,"v":7.3},{"x":1.33,"y":2.03,"y2":2.21,"v":6.7},{"x":1.33,"y":2.21,"y2":2.39,"v":3.9},
{"x":1.51,"y":-2.56,"y2":-2.39,"v":4.3},{"x":1.51,"y":-2.39,"y2":-2.2,"v":5.8},{"x":1.51,"y":-2.2,"y2":-2.02,"v":5.5},{"x":1.51,"y":-2.02,"y2":-1.5,"v":5.6},{"x":1.51,"y":-1.5,"y2":-0.8,"v":6.2},{"x":1.51,"y":-0.8,"y2":-0.1,"v":6.3},{"x":1.51,"y":-0.1,"y2":0.5,"v":6.9},{"x":1.51,"y":0.5,"y2":1.6,"v":7.45},{"x":1.51,"y":1.6,"y2":2.03,"v":7.35},{"x":1.51,"y":2.03,"y2":2.21,"v":7.1},{"x":1.51,"y":2.21,"y2":2.39,"v":5.9},
{"x":1.69,"y":-2.2,"y2":-2.02,"v":3.9},{"x":1.69,"y":-2.02,"y2":-1.84,"v":5},{"x":1.69,"y":-1.84,"y2":-1.66,"v":5.8},{"x":1.69,"y":-1.66,"y2":-0.9,"v":6.1},{"x":1.69,"y":-0.9,"y2":-0.3,"v":6.5},{"x":1.69,"y":-0.3,"y2":0.1,"v":6.4},{"x":1.69,"y":0.1,"y2":0.6,"v":7.05},{"x":1.69,"y":0.6,"y2":1.7,"v":7.45},{"x":1.69,"y":1.7,"y2":2.03,"v":7.4},{"x":1.69,"y":2.03,"y2":2.21,"v":7},{"x":1.69,"y":2.21,"y2":2.39,"v":6.4},
{"x":1.87,"y":-1.84,"y2":-1.66,"v":4.5},{"x":1.87,"y":-1.66,"y2":-1.48,"v":5.3},{"x":1.87,"y":-1.48,"y2":-1.29,"v":5.9},{"x":1.87,"y":-1.29,"y2":-0.6,"v":6.2},{"x":1.87,"y":-0.6,"y2":-0.2,"v":6.5},{"x":1.87,"y":-0.2,"y2":0.4,"v":6.6},{"x":1.87,"y":0.4,"y2":0.7,"v":7.1},{"x":1.87,"y":0.7,"y2":1.7,"v":7.45},{"x":1.87,"y":1.7,"y2":2.21,"v":7.35},{"x":1.87,"y":2.21,"y2":2.39,"v":6.7},
{"x":2.05,"y":-1.84,"y2":-1.66,"v":4.6},{"x":2.05,"y":-1.48,"y2":-1.29,"v":5.4},{"x":2.05,"y":-1.29,"y2":-1.05,"v":5.7},{"x":2.05,"y":-1.05,"y2":-0.6,"v":6.2},{"x":2.05,"y":-0.6,"y2":-0.1,"v":6.3},{"x":2.05,"y":-0.1,"y2":0.4,"v":6.7},{"x":2.05,"y":0.4,"y2":0.8,"v":7.1},{"x":2.05,"y":0.8,"y2":1.8,"v":7.45},{"x":2.05,"y":1.8,"y2":2.39,"v":7.35},{"x":2.05,"y":2.39,"y2":2.57,"v":5.4},
{"x":2.23,"y":-1.84,"y2":-1.66,"v":5.4},{"x":2.23,"y":-1.66,"y2":-1.29,"v":5.3},{"x":2.23,"y":-1.29,"y2":-1.05,"v":5.6},{"x":2.23,"y":-1.05,"y2":-0.6,"v":5.9},{"x":2.23,"y":-0.6,"y2":-0.2,"v":6.5},{"x":2.23,"y":-0.2,"y2":0.3,"v":6.6},{"x":2.23,"y":0.3,"y2":0.8,"v":7.05},{"x":2.23,"y":0.8,"y2":1.9,"v":7.45},{"x":2.23,"y":1.9,"y2":2.39,"v":7.4},{"x":2.23,"y":2.39,"y2":2.57,"v":6.4},
{"x":2.41,"y":-2.02,"y2":-1.84,"v":4.9},{"x":2.41,"y":-1.48,"y2":-1.05,"v":4.9},{"x":2.41,"y":-1.05,"y2":-0.87,"v":5.5},{"x":2.41,"y":-0.87,"y2":-0.4,"v":6.2},{"x":2.41,"y":-0.4,"y2":0,"v":6.3},{"x":2.41,"y":0,"y2":0.4,"v":6.8},{"x":2.41,"y":0.4,"y2":0.75,"v":6.8},{"x":2.41,"y":0.75,"y2":1,"v":7.2},{"x":2.41,"y":1,"y2":2,"v":7.45},{"x":2.41,"y":2,"y2":2.57,"v":7.35},{"x":2.41,"y":2.57,"y2":2.75,"v":5.4},
{"x":2.59,"y":-0.87,"y2":-0.69,"v":4.9},{"x":2.59,"y":-0.69,"y2":-0.5,"v":5.7},{"x":2.59,"y":-0.5,"y2":-0.1,"v":6},{"x":2.59,"y":-0.1,"y2":0.25,"v":6.3},{"x":2.59,"y":0.25,"y2":0.4,"v":6},{"x":2.59,"y":0.4,"y2":0.7,"v":6.4},{"x":2.59,"y":0.7,"y2":1,"v":6.8},{"x":2.59,"y":1,"y2":2.1,"v":7.45},{"x":2.59,"y":2.1,"y2":2.57,"v":7.35},{"x":2.59,"y":2.57,"y2":2.75,"v":6.6},
{"x":2.77,"y":-0.69,"y2":-0.5,"v":5.3},{"x":2.77,"y":-0.5,"y2":-0.33,"v":5.2},{"x":2.77,"y":-0.33,"y2":0.04,"v":5.9},{"x":2.77,"y":0.04,"y2":0.24,"v":6.8},{"x":2.77,"y":0.24,"y2":0.41,"v":6},{"x":2.77,"y":0.41,"y2":0.76,"v":6.3},{"x":2.77,"y":0.76,"y2":1.1,"v":6.8},{"x":2.77,"y":1.1,"y2":2.2,"v":7.4},{"x":2.77,"y":2.2,"y2":2.75,"v":7.3},{"x":2.77,"y":2.75,"y2":2.93,"v":6.1},
{"x":2.95,"y":-0.5,"y2":-0.33,"v":5.3},{"x":2.95,"y":-0.33,"y2":-0.16,"v":5.9},{"x":2.95,"y":0.41,"y2":0.59,"v":5.9},{"x":2.95,"y":0.59,"y2":0.76,"v":6.8},{"x":2.95,"y":0.76,"y2":0.96,"v":5.7},{"x":2.95,"y":0.96,"y2":1.13,"v":6.3},{"x":2.95,"y":1.13,"y2":1.3,"v":7},{"x":2.95,"y":1.3,"y2":2.3,"v":7.35},{"x":2.95,"y":2.3,"y2":2.75,"v":7.3},{"x":2.95,"y":2.75,"y2":2.93,"v":6.2},
{"x":3.13,"y":0.76,"y2":0.96,"v":5.6},{"x":3.13,"y":1.13,"y2":1.3,"v":5.9},{"x":3.13,"y":1.3,"y2":1.48,"v":6.8},{"x":3.13,"y":1.48,"y2":1.67,"v":7.15},{"x":3.13,"y":1.67,"y2":2.57,"v":7.4},{"x":3.13,"y":2.57,"y2":2.75,"v":7.2},{"x":3.13,"y":2.75,"y2":2.93,"v":6.4},{"x":3.13,"y":2.93,"y2":3.11,"v":6},
{"x":3.31,"y":0.41,"y2":0.59,"v":5.3},{"x":3.31,"y":0.76,"y2":0.96,"v":6.1},{"x":3.31,"y":1.13,"y2":1.3,"v":5.9},{"x":3.31,"y":1.3,"y2":1.48,"v":6.6},{"x":3.31,"y":1.48,"y2":1.67,"v":7.1},{"x":3.31,"y":1.67,"y2":2.57,"v":7.4},{"x":3.31,"y":2.57,"y2":2.75,"v":7.15},{"x":3.31,"y":2.75,"y2":2.93,"v":6.9},{"x":3.31,"y":2.93,"y2":3.11,"v":6.6},
{"x":3.49,"y":0.59,"y2":0.76,"v":5.9},{"x":3.49,"y":0.96,"y2":1.13,"v":5.9},{"x":3.49,"y":1.13,"y2":1.3,"v":6},{"x":3.49,"y":1.3,"y2":1.48,"v":6.2},{"x":3.49,"y":1.48,"y2":1.67,"v":6.6},{"x":3.49,"y":1.67,"y2":1.84,"v":6.2},{"x":3.49,"y":1.84,"y2":2.03,"v":7.05},{"x":3.49,"y":2.03,"y2":2.39,"v":7.3},{"x":3.49,"y":2.39,"y2":2.57,"v":7},{"x":3.49,"y":2.57,"y2":2.75,"v":7.2},{"x":3.49,"y":2.75,"y2":2.93,"v":6.3},{"x":3.49,"y":2.93,"y2":3.11,"v":6.5},
{"x":3.69,"y":1.13,"y2":1.3,"v":6},{"x":3.69,"y":1.3,"y2":1.48,"v":6.2},{"x":3.69,"y":1.48,"y2":1.67,"v":6.6},{"x":3.69,"y":1.84,"y2":2.03,"v":7},{"x":3.69,"y":2.03,"y2":2.39,"v":7.3},{"x":3.69,"y":2.39,"y2":2.57,"v":6.9},{"x":3.69,"y":2.57,"y2":2.75,"v":7.15},{"x":3.69,"y":2.75,"y2":2.93,"v":6.8},{"x":3.69,"y":2.93,"y2":3.11,"v":6.8}
],"meanT":[{"x":-2.95,"y":-4.06},{"x":-2.71,"y":-2.6},{"x":-2.48,"y":-1.04},{"x":-2.25,"y":-0.7},{"x":-2.01,"y":-1},{"x":-1.77,"y":-0.92},{"x":-1.54,"y":-0.82},{"x":-1.31,"y":-0.69},{"x":-1.08,"y":-0.52},{"x":-0.84,"y":-0.35},{"x":-0.61,"y":-0.09},{"x":-0.37,"y":0.16},{"x":-0.14,"y":0.39},{"x":0.09,"y":0.54},{"x":0.32,"y":0.62},{"x":0.55,"y":0.67},{"x":0.79,"y":0.73},{"x":1.02,"y":0.77},{"x":1.25,"y":0.82},{"x":1.49,"y":0.87},{"x":1.72,"y":0.95},{"x":1.95,"y":1.07},{"x":2.19,"y":1.19},{"x":2.43,"y":1.38},{"x":2.66,"y":1.38},{"x":2.89,"y":1.5},{"x":3.12,"y":1.83},{"x":3.36,"y":1.91},{"x":3.6,"y":1.91},{"x":3.8,"y":1.79}],
"meanR":[{"x":-3,"y":-3.2,"off":true},{"x":-2.88,"y":-3.52},{"x":-2.66,"y":-1.94},{"x":-2.44,"y":-0.58},{"x":-2.21,"y":-0.67},{"x":-1.99,"y":-0.58},{"x":-1.77,"y":-0.23},{"x":-1.54,"y":-0.06},{"x":-1.32,"y":0.05},{"x":-1.1,"y":0.18},{"x":-0.87,"y":0.23},{"x":-0.65,"y":0.33},{"x":-0.43,"y":0.49},{"x":-0.19,"y":0.65},{"x":0.02,"y":0.78},{"x":0.25,"y":0.86},{"x":0.49,"y":0.93},{"x":0.71,"y":1.03},{"x":0.93,"y":1.14},{"x":1.15,"y":1.2},{"x":1.37,"y":1.27},{"x":1.6,"y":1.35},{"x":1.82,"y":1.39},{"x":2.04,"y":1.5},{"x":2.28,"y":1.65},{"x":2.49,"y":1.73},{"x":2.72,"y":1.78},{"x":2.94,"y":1.93},{"x":3.17,"y":2.13},{"x":3.38,"y":2.18},{"x":3.62,"y":2.33},{"x":3.8,"y":2.56}],
"fitT":[{"fit":"fit, κ₁=0.31±0.01","x":1.02,"y":0.76},{"fit":"fit, κ₁=0.31±0.01","x":1.96,"y":1.04},{"fit":"fit, κ₂=0.61±0.02","x":2.18,"y":1.17},{"fit":"fit, κ₂=0.61±0.02","x":3.12,"y":1.75}],
"fitR":[{"fit":"fit, κ₁=0.31±0.01","x":1.14,"y":1.21},{"fit":"fit, κ₁=0.31±0.01","x":1.82,"y":1.4},{"fit":"fit, κ₂=0.53±0.01","x":2.04,"y":1.48},{"fit":"fit, κ₂=0.53±0.01","x":3.17,"y":2.07}],
"guides":[{"s":"a","x":0,"y":-5.5},{"s":"a","x":2.4,"y":-3.11},{"s":"b","x":0,"y":-5.5},{"s":"b","x":2.4,"y":-3.9},{"s":"c","x":0,"y":-5.5},{"s":"c","x":2.4,"y":-4.3},{"s":"d","x":0,"y":-5.5},{"s":"d","x":2.4,"y":-5.5}],
"nLabels":[{"t":"n","x":2.53,"y":-3.2},{"t":"n","x":2.53,"y":-4.01},{"t":"n","x":2.53,"y":-4.49},{"t":"n","x":2.53,"y":-5.49}],
"expLabels":[{"t":"1","x":2.72,"y":-3},{"t":"0","x":2.72,"y":-5.28}],
"fracLabels":[{"t":"2","x":2.73,"y":-3.72},{"t":"3","x":2.73,"y":-3.96},{"t":"1","x":2.73,"y":-4.19},{"t":"2","x":2.73,"y":-4.46}],
"fracBars":[{"x":2.72,"x2":2.83,"y":-3.77},{"x":2.72,"x2":2.83,"y":-4.25}],
"frameT":[{"x":-3,"x2":3.8,"y":-6,"y2":3.5}],"frameR":[{"x":-3,"x2":3.8,"y":-6,"y2":3.5}],
"cbar":[{"v":3,"w":3.1},{"v":3.1,"w":3.2},{"v":3.2,"w":3.3},{"v":3.3,"w":3.4},{"v":3.4,"w":3.5},{"v":3.5,"w":3.6},{"v":3.6,"w":3.7},{"v":3.7,"w":3.8},{"v":3.8,"w":3.9},{"v":3.9,"w":4},{"v":4,"w":4.1},{"v":4.1,"w":4.2},{"v":4.2,"w":4.3},{"v":4.3,"w":4.4},{"v":4.4,"w":4.5},{"v":4.5,"w":4.6},{"v":4.6,"w":4.7},{"v":4.7,"w":4.8},{"v":4.8,"w":4.9},{"v":4.9,"w":5},{"v":5,"w":5.1},{"v":5.1,"w":5.2},{"v":5.2,"w":5.3},{"v":5.3,"w":5.4},{"v":5.4,"w":5.5},{"v":5.5,"w":5.6},{"v":5.6,"w":5.7},{"v":5.7,"w":5.8},{"v":5.8,"w":5.9},{"v":5.9,"w":6},{"v":6,"w":6.1},{"v":6.1,"w":6.2},{"v":6.2,"w":6.3},{"v":6.3,"w":6.4},{"v":6.4,"w":6.5},{"v":6.5,"w":6.6},{"v":6.6,"w":6.7},{"v":6.7,"w":6.8},{"v":6.8,"w":6.9},{"v":6.9,"w":7},{"v":7,"w":7.1},{"v":7.1,"w":7.2},{"v":7.2,"w":7.3},{"v":7.3,"w":7.4},{"v":7.4,"w":7.5},{"v":7.5,"w":7.6},{"v":7.6,"w":7.7},{"v":7.7,"w":7.8},{"v":7.8,"w":7.9},{"v":7.9,"w":8}],
"cbBig":[{"t":"log(M","x":3,"y":4.69},{"t":"/M","x":3,"y":5.68},{"t":")","x":3,"y":6.19}],
"cbSmall":[{"t":"bin","x":3.15,"y":5.375},{"t":"⊙","x":3.15,"y":6.01}]
},
"hconcat":[
{"width":483,"height":467,"title":{"text":"Model T","offset":53},"layer":[
{"data":{"name":"heatT"},"mark":{"type":"bar","width":13.5,"clip":true,"strokeWidth":0.5},"encoding":{"x":{"field":"x","type":"quantitative","scale":{"domain":[-3,3.8],"range":[0,483],"padding":0,"nice":false,"zero":false},"axis":{"values":[-3,-2,-1,0,1,2,3],"title":"log(n/cm⁻³)","labelPadding":7,"titlePadding":9,"format":"d"}},"y":{"field":"y","type":"quantitative","scale":{"domain":[-6,3.5],"nice":false,"zero":false},"axis":{"values":[-6,-4,-2,0,2],"title":"log(B/μG)","titlePadding":8,"format":"d"}},"y2":{"field":"y2"},"fill":{"field":"v","type":"quantitative","scale":{"domain":[3,8],"scheme":"magma","reverse":true},"legend":null},"stroke":{"field":"v","type":"quantitative","scale":{"domain":[3,8],"scheme":"magma","reverse":true},"legend":null}}},
{"data":{"name":"meanT"},"mark":{"type":"line","color":"#1f77b4","strokeWidth":2,"clip":true},"encoding":{"x":{"field":"x","type":"quantitative"},"y":{"field":"y","type":"quantitative"}}},
{"data":{"name":"meanT"},"mark":{"type":"point","filled":true,"fill":"#4a88b8","stroke":"#a3dcec","strokeWidth":1.4,"opacity":1,"size":175,"clip":true},"encoding":{"x":{"field":"x","type":"quantitative"},"y":{"field":"y","type":"quantitative"}}},
{"data":{"name":"fitT"},"mark":{"type":"line","strokeWidth":2.6,"clip":true},"encoding":{"x":{"field":"x","type":"quantitative"},"y":{"field":"y","type":"quantitative"},"color":{"field":"fit","type":"nominal","scale":{"domain":["fit, κ₁=0.31±0.01","fit, κ₂=0.61±0.02"],"range":["#d0883a","#b81e1e"]},"legend":{"orient":"none","legendX":8,"legendY":8}}}},
{"data":{"name":"guides"},"mark":{"type":"line","color":"black","strokeWidth":2.2,"strokeDash":[6,3.5]},"encoding":{"x":{"field":"x","type":"quantitative"},"y":{"field":"y","type":"quantitative"},"detail":{"field":"s"}}},
{"data":{"name":"nLabels"},"mark":{"type":"text","font":"DejaVu Sans","fontStyle":"italic","fontSize":22,"align":"left","baseline":"alphabetic","color":"#111"},"encoding":{"x":{"field":"x","type":"quantitative"},"y":{"field":"y","type":"quantitative"},"text":{"field":"t"}}},
{"data":{"name":"expLabels"},"mark":{"type":"text","font":"DejaVu Sans","fontSize":15,"align":"left","baseline":"alphabetic","color":"#111"},"encoding":{"x":{"field":"x","type":"quantitative"},"y":{"field":"y","type":"quantitative"},"text":{"field":"t"}}},
{"data":{"name":"fracLabels"},"mark":{"type":"text","font":"DejaVu Sans","fontSize":10,"align":"left","baseline":"alphabetic","color":"#111"},"encoding":{"x":{"field":"x","type":"quantitative"},"y":{"field":"y","type":"quantitative"},"text":{"field":"t"}}},
{"data":{"name":"fracBars"},"mark":{"type":"rule","color":"#111","strokeWidth":1},"encoding":{"x":{"field":"x","type":"quantitative"},"x2":{"field":"x2"},"y":{"field":"y","type":"quantitative"}}},
{"data":{"name":"frameT"},"mark":{"type":"rect","fillOpacity":0,"stroke":"black","strokeWidth":4},"encoding":{"x":{"field":"x","type":"quantitative"},"x2":{"field":"x2"},"y":{"field":"y","type":"quantitative"},"y2":{"field":"y2"}}}
]},
{"hconcat":[
{"width":477,"height":467,"title":{"text":"Model R","offset":55},"layer":[
{"data":{"name":"heatR"},"mark":{"type":"bar","width":13,"clip":true,"strokeWidth":0.5},"encoding":{"x":{"field":"x","type":"quantitative","scale":{"domain":[-3,3.8],"range":[0,477],"padding":0,"nice":false,"zero":false},"axis":{"values":[-3,-2,-1,0,1,2,3],"title":"log(n/cm⁻³)","labelPadding":7,"titlePadding":9,"format":"d"}},"y":{"field":"y","type":"quantitative","scale":{"domain":[-6,3.624],"nice":false,"zero":false},"axis":{"values":[-6,-4,-2,0,2],"title":null,"format":"d"}},"y2":{"field":"y2"},"fill":{"field":"v","type":"quantitative","scale":{"domain":[3,8],"scheme":"magma","reverse":true},"legend":null},"stroke":{"field":"v","type":"quantitative","scale":{"domain":[3,8],"scheme":"magma","reverse":true},"legend":null}}},
{"data":{"name":"meanR"},"mark":{"type":"line","color":"#0b7d14","strokeWidth":2,"clip":true},"encoding":{"x":{"field":"x","type":"quantitative"},"y":{"field":"y","type":"quantitative"}}},
{"data":{"name":"meanR"},"transform":[{"filter":"!datum.off"}],"mark":{"type":"point","filled":true,"fill":"#006400","stroke":"#66dd66","strokeWidth":1.3,"opacity":1,"size":170,"shape":"M0,-1L0.866,-0.5L0.866,0.5L0,1L-0.866,0.5L-0.866,-0.5Z","clip":true},"encoding":{"x":{"field":"x","type":"quantitative"},"y":{"field":"y","type":"quantitative"}}},
{"data":{"name":"fitR"},"mark":{"type":"line","strokeWidth":2.6,"clip":true},"encoding":{"x":{"field":"x","type":"quantitative"},"y":{"field":"y","type":"quantitative"},"color":{"field":"fit","type":"nominal","scale":{"domain":["fit, κ₁=0.31±0.01","fit, κ₂=0.53±0.01"],"range":["#d0883a","#b81e1e"]},"legend":{"orient":"none","legendX":8,"legendY":8}}}},
{"data":{"name":"guides"},"mark":{"type":"line","color":"black","strokeWidth":2.2,"strokeDash":[6,3.5]},"encoding":{"x":{"field":"x","type":"quantitative"},"y":{"field":"y","type":"quantitative"},"detail":{"field":"s"}}},
{"data":{"name":"nLabels"},"mark":{"type":"text","font":"DejaVu Sans","fontStyle":"italic","fontSize":22,"align":"left","baseline":"alphabetic","color":"#111"},"encoding":{"x":{"field":"x","type":"quantitative"},"y":{"field":"y","type":"quantitative"},"text":{"field":"t"}}},
{"data":{"name":"expLabels"},"mark":{"type":"text","font":"DejaVu Sans","fontSize":15,"align":"left","baseline":"alphabetic","color":"#111"},"encoding":{"x":{"field":"x","type":"quantitative"},"y":{"field":"y","type":"quantitative"},"text":{"field":"t"}}},
{"data":{"name":"fracLabels"},"mark":{"type":"text","font":"DejaVu Sans","fontSize":10,"align":"left","baseline":"alphabetic","color":"#111"},"encoding":{"x":{"field":"x","type":"quantitative"},"y":{"field":"y","type":"quantitative"},"text":{"field":"t"}}},
{"data":{"name":"fracBars"},"mark":{"type":"rule","color":"#111","strokeWidth":1},"encoding":{"x":{"field":"x","type":"quantitative"},"x2":{"field":"x2"},"y":{"field":"y","type":"quantitative"}}},
{"data":{"name":"frameR"},"mark":{"type":"rect","fillOpacity":0,"stroke":"black","strokeWidth":4},"encoding":{"x":{"field":"x","type":"quantitative"},"x2":{"field":"x2"},"y":{"field":"y","type":"quantitative"},"y2":{"field":"y2"}}}
]},
{"width":21,"height":467,"layer":[
{"data":{"name":"cbar"},"mark":{"type":"rect","strokeWidth":0.5},"encoding":{"x":{"datum":0,"type":"quantitative","scale":{"domain":[0,1],"nice":false},"axis":null},"x2":{"datum":1},"y":{"field":"v","type":"quantitative","scale":{"domain":[3,8.065],"nice":false,"zero":false},"axis":{"orient":"right","values":[3,4,5,6,7,8],"title":null,"format":"d","labelFontSize":15}},"y2":{"field":"w"},"fill":{"field":"v","type":"quantitative","scale":{"domain":[3,8],"scheme":"magma","reverse":true},"legend":null},"stroke":{"field":"v","type":"quantitative","scale":{"domain":[3,8],"scheme":"magma","reverse":true},"legend":null}}},
{"data":{"values":[{"x":0,"x2":1,"y":3,"y2":8}]},"mark":{"type":"rect","fillOpacity":0,"stroke":"black","strokeWidth":4},"encoding":{"x":{"field":"x","type":"quantitative"},"x2":{"field":"x2"},"y":{"field":"y","type":"quantitative"},"y2":{"field":"y2"}}},
{"data":{"name":"cbBig"},"mark":{"type":"text","font":"DejaVu Sans","fontStyle":"italic","fontSize":22,"angle":270,"align":"left","baseline":"alphabetic","color":"#111"},"encoding":{"x":{"field":"x","type":"quantitative"},"y":{"field":"y","type":"quantitative"},"text":{"field":"t"}}},
{"data":{"name":"cbSmall"},"mark":{"type":"text","font":"DejaVu Sans","fontStyle":"italic","fontSize":15,"angle":270,"align":"left","baseline":"alphabetic","color":"#111"},"encoding":{"x":{"field":"x","type":"quantitative"},"y":{"field":"y","type":"quantitative"},"text":{"field":"t"}}}
]}
],"spacing":31,"bounds":"flush","resolve":{"scale":{"color":"independent"},"legend":{"color":"independent"}}}
]}
